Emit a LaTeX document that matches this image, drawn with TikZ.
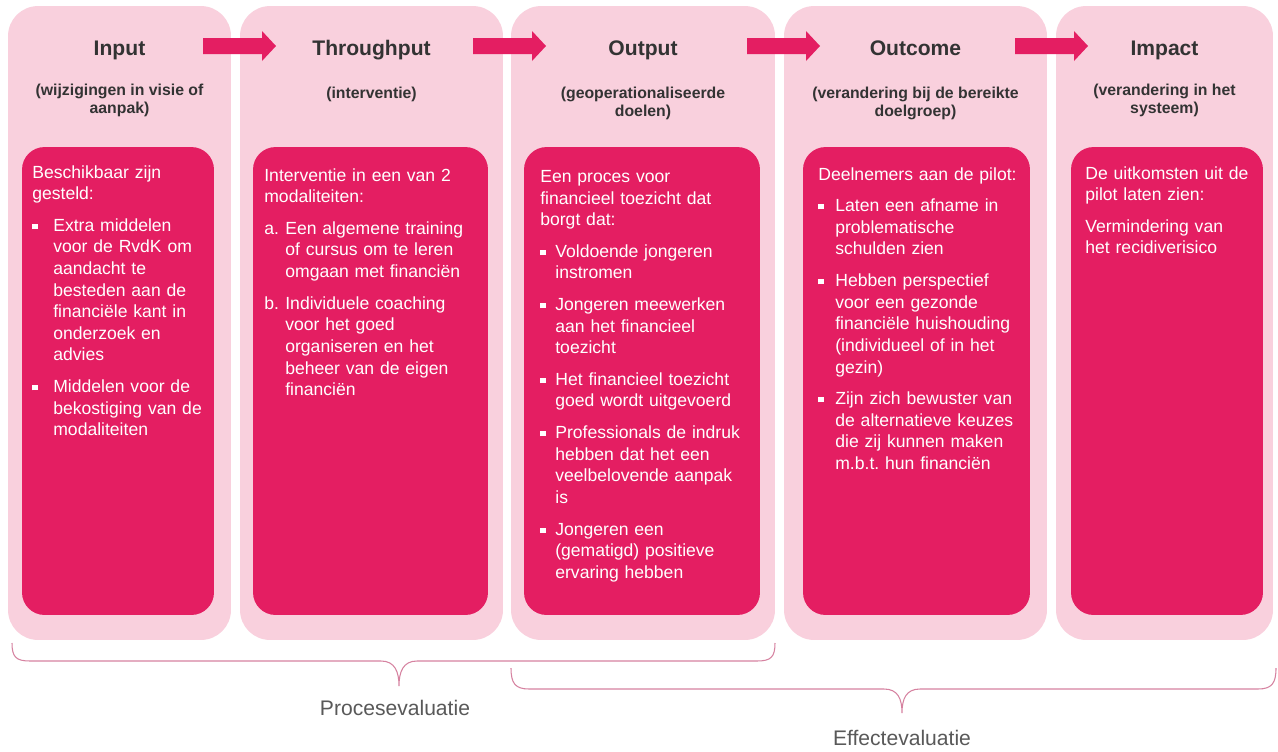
\documentclass[tikz,border=0pt]{standalone}
\usepackage{fontspec}
\setmainfont{Liberation Sans}
\usetikzlibrary{positioning}

\definecolor{lightrose}{RGB}{249,208,221}
\definecolor{deeprose}{RGB}{228,30,98}
\definecolor{bracerose}{RGB}{214,130,160}
\definecolor{titlegray}{RGB}{51,51,51}
\definecolor{labelgray}{RGB}{89,89,89}

% square bullet and hanging paragraph (\\ breaks the line, not the paragraph)
\newcommand{\sqbul}{\rule[1.3pt]{3pt}{3pt}}
\newcommand{\hangpar}[3]{\par{\def\\{\newline}\hangindent=#1\hangafter=1\noindent\makebox[#1][l]{#2}#3\par}}

\tikzset{
  colbox/.style={fill=lightrose, rounded corners=0.6cm, minimum height=12.68cm, inner sep=0pt},
  innerbox/.style={fill=deeprose, rounded corners=0.45cm, minimum height=9.36cm, inner sep=0pt},
  coltitle/.style={anchor=base, inner sep=0pt, text=titlegray, font=\fontsize{12}{14}\selectfont\bfseries},
  colsub/.style={anchor=north, inner sep=0pt, align=center, text=titlegray, font=\fontsize{9}{10.2}\selectfont\bfseries},
  boxtext/.style={anchor=north west, inner sep=0pt, align=left, text=white,
    font=\fontsize{10}{12.3}\selectfont\frenchspacing, execute at begin node={\setlength{\parskip}{5.7pt}}},
  flowarrow/.style={fill=deeprose},
  evalbrace/.style={draw=bracerose, line width=0.6pt},
  evallabel/.style={inner sep=0pt, text=labelgray, font=\fontsize{12}{14}\selectfont}
}

\begin{document}
\begin{tikzpicture}[x=0.02cm, y=-0.02cm]
\useasboundingbox[fill=white] (0,0) rectangle (1278,751);

% Drawing columns
\node[colbox, minimum width=4.46cm] (input) at (119.5,323) {};
\node[colbox, minimum width=5.26cm] (throughput) at (371.5,323) {};
\node[colbox, minimum width=5.28cm] (output) at (643,323) {};
\node[colbox, minimum width=5.26cm] (outcome) at (915.5,323) {};
\node[colbox, minimum width=4.34cm] (impact) at (1164.5,323) {};

% Drawing inner boxes
\node[innerbox, minimum width=3.84cm] (inputbody) at (118,381) {};
\node[innerbox, minimum width=4.70cm] (throughputbody) at (370.5,381) {};
\node[innerbox, minimum width=4.72cm] (outputbody) at (642,381) {};
\node[innerbox, minimum width=4.54cm] (outcomebody) at (916.5,381) {};
\node[innerbox, minimum width=3.84cm] (impactbody) at (1167,381) {};

% Drawing arrows between columns
\foreach \ax in {203,473,747,1015}
  \fill[flowarrow] (\ax,38) -- ++(59,0) -- ++(0,-7) -- ++(14,15) -- ++(-14,15) -- ++(0,-7) -- ++(-59,0) -- cycle;

% Column titles
\node[coltitle] (inputtitle) at (119.5,55) {Input};
\node[coltitle] (throughputtitle) at (371.5,55) {Throughput};
\node[coltitle] (outputtitle) at (643,55) {Output};
\node[coltitle] (outcometitle) at (915.5,55) {Outcome};
\node[coltitle] (impacttitle) at (1164.5,55) {Impact};

% Column subtitles
\node[colsub] (inputsub) at (119.5,83.5) {(wijzigingen in visie of\\aanpak)};
\node[colsub] (throughputsub) at (371.5,86.5) {(interventie)};
\node[colsub] (outputsub) at (643,86.5) {(geoperationaliseerde\\doelen)};
\node[colsub] (outcomesub) at (915.5,86.5) {(verandering bij de bereikte\\doelgroep)};
\node[colsub] (impactsub) at (1164.5,83.5) {(verandering in het\\systeem)};

% Text of inner boxes
\node[boxtext, text width=3.56cm] (inputtext) at (32,165) {%
\noindent Beschikbaar zijn\\gesteld:\par
\hangpar{0.42cm}{\sqbul}{Extra middelen\\voor de RvdK om\\aandacht te\\besteden aan de\\financiële kant in\\onderzoek en\\advies}
\hangpar{0.42cm}{\sqbul}{Middelen voor de\\bekostiging van de\\modaliteiten}};

\node[boxtext, text width=4.4cm] (throughputtext) at (264,168) {%
\noindent Interventie in een van 2\\modaliteiten:\par
\hangpar{0.42cm}{a.}{Een algemene training\\of cursus om te leren\\omgaan met financiën}
\hangpar{0.42cm}{b.}{Individuele coaching\\voor het goed\\organiseren en het\\beheer van de eigen\\financiën}};

\node[boxtext, text width=4.32cm] (outputtext) at (540,170) {%
\noindent Een proces voor\\financieel toezicht dat\\borgt dat:\par
\hangpar{0.3cm}{\sqbul}{Voldoende jongeren\\instromen}
\hangpar{0.3cm}{\sqbul}{Jongeren meewerken\\aan het financieel\\toezicht}
\hangpar{0.3cm}{\sqbul}{Het financieel toezicht\\goed wordt uitgevoerd}
\hangpar{0.3cm}{\sqbul}{Professionals de indruk\\hebben dat het een\\veelbelovende aanpak\\is}
\hangpar{0.3cm}{\sqbul}{Jongeren een\\(gematigd) positieve\\ervaring hebben}};

\node[boxtext, text width=4.16cm] (outcometext) at (818,167) {%
\noindent Deelnemers aan de pilot:\par
\hangpar{0.34cm}{\sqbul}{Laten een afname in\\problematische\\schulden zien}
\hangpar{0.34cm}{\sqbul}{Hebben perspectief\\voor een gezonde\\financiële huishouding\\(individueel of in het\\gezin)}
\hangpar{0.34cm}{\sqbul}{Zijn zich bewuster van\\de alternatieve keuzes\\die zij kunnen maken\\m.b.t. hun financiën}};

\node[boxtext, text width=3.48cm] (impacttext) at (1085,166) {%
\noindent De uitkomsten uit de\\pilot laten zien:\par
\noindent Vermindering van\\het recidiverisico\par};

% Drawing brace Procesevaluatie
\coordinate (procL) at (12,643);
\coordinate (procR) at (775,643);
\coordinate (procTip) at (399,686);
\draw[evalbrace] (procL) .. controls +(0,14) and +(-14,0) .. (30,661) -- (381,661)
  .. controls +(14,0) and +(0,-14) .. (procTip) .. controls +(0,-14) and +(-14,0) .. (417,661)
  -- (757,661) .. controls +(14,0) and +(0,14) .. (procR);
\node[evallabel] (proclabel) at (395,708) {Procesevaluatie};

% Drawing brace Effectevaluatie
\coordinate (effL) at (511,668);
\coordinate (effR) at (1276,668);
\coordinate (effTip) at (902,713);
\draw[evalbrace] (effL) .. controls +(0,15) and +(-14,0) .. (529,689) -- (884,689)
  .. controls +(14,0) and +(0,-14) .. (effTip) .. controls +(0,-14) and +(-14,0) .. (920,689)
  -- (1258,689) .. controls +(14,0) and +(0,15) .. (effR);
\node[evallabel] (efflabel) at (902,738) {Effectevaluatie};
\end{tikzpicture}
\end{document}
